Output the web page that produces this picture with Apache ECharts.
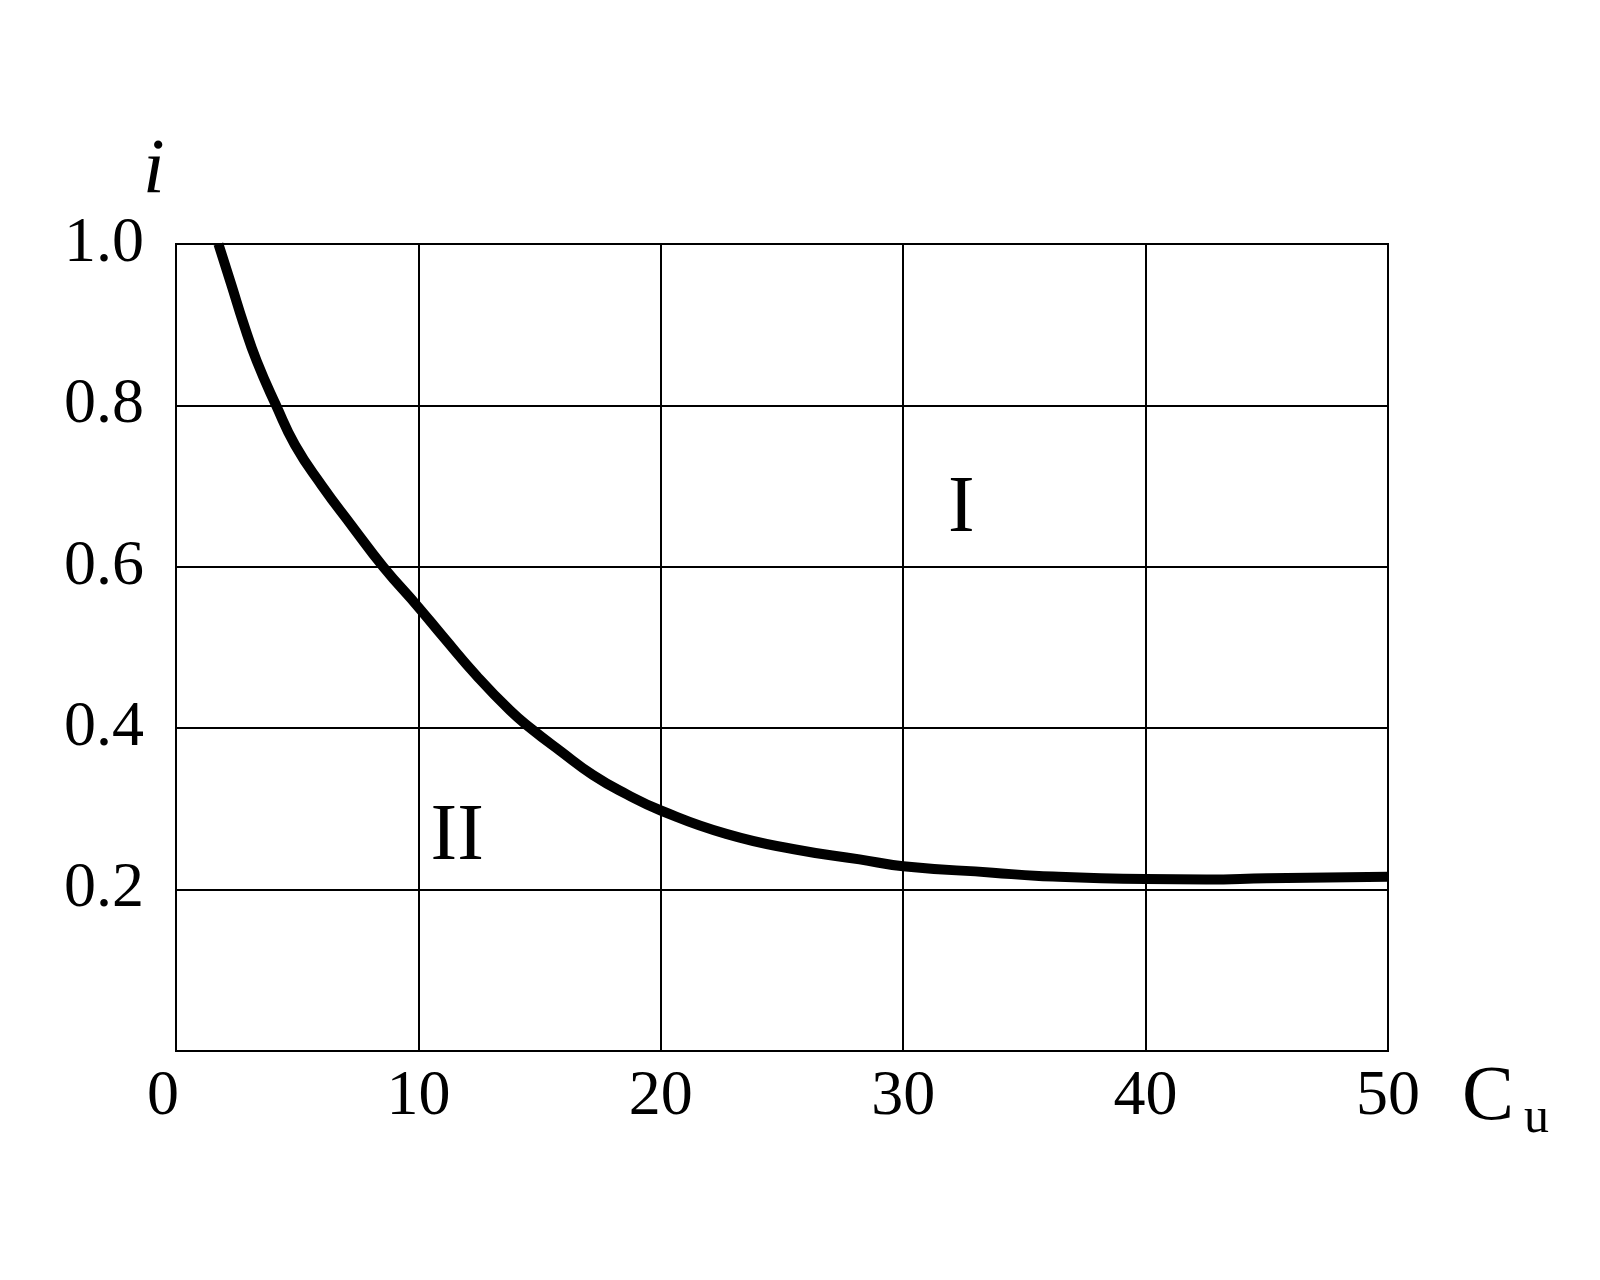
<!DOCTYPE html>
<html><head><meta charset="utf-8">
<script src="https://cdn.jsdelivr.net/npm/echarts@6/dist/echarts.min.js"></script>
<style>html,body{margin:0;padding:0;background:#fff}#c{width:1600px;height:1280px}</style>
</head><body><div id="c"></div>
<script>
const cuValues = [1.75, 2.3, 2.78, 3.33, 4.13, 4.91, 6.01, 7.25, 8.55, 10.0, 11.03, 12.4, 13.78, 14.67, 15.84, 17.2, 18.6, 20.0, 22.7, 25.5, 28.2, 30.0, 33.7, 35.6, 40, 42.5, 45, 50];
const iValues  = [1.0, 0.948, 0.902, 0.855, 0.8, 0.751, 0.701, 0.651, 0.6, 0.55, 0.513, 0.465, 0.422, 0.399, 0.372, 0.342, 0.318, 0.298, 0.269, 0.25, 0.2375, 0.229, 0.221, 0.217, 0.213, 0.2125, 0.214, 0.216];
const xTicks = [0, 10, 20, 30, 40, 50];
const yTicks = [0.2, 0.4, 0.6, 0.8, 1.0];
const regionLabels = [{name: 'I', cu: 32.4, i: 0.67}, {name: 'II', cu: 11.6, i: 0.264}];
const FONT = '"Liberation Serif", "DejaVu Serif", serif';

const chart = echarts.init(document.getElementById('c'));
chart.setOption({
  backgroundColor: '#fff',
  animation: false,
  grid: {left: 176, top: 244, width: 1212, height: 807, show: true, borderColor: '#000', borderWidth: 2, containLabel: false},
  xAxis: {
    type: 'value', min: 0, max: 50, interval: 10,
    axisLine: {show: true, lineStyle: {color: '#000', width: 2}},
    axisTick: {show: false},
    splitLine: {show: true, lineStyle: {color: '#000', width: 2}},
    axisLabel: {color: '#000', fontFamily: FONT, fontSize: 64, margin: 14,
      formatter: v => v === 0 ? '{z|0}' : (xTicks.includes(v) ? String(v) : ''),
      rich: {z: {fontFamily: FONT, fontSize: 64, color: '#000', padding: [0, 26, 0, 0]}}}
  },
  yAxis: {
    type: 'value', min: 0, max: 1, interval: 0.2,
    axisLine: {show: true, lineStyle: {color: '#000', width: 2}},
    axisTick: {show: false},
    splitLine: {show: true, lineStyle: {color: '#000', width: 2}},
    axisLabel: {color: '#000', fontFamily: FONT, fontSize: 64, margin: 32,
      formatter: v => yTicks.some(t => Math.abs(t - v) < 1e-9) ? v.toFixed(1) : ''}
  },
  series: [
    {
      type: 'line', data: cuValues.map((c, k) => [c, iValues[k]]),
      smooth: 0.5, showSymbol: false, symbol: 'none',
      lineStyle: {color: '#000', width: 10}
    },
    {
      type: 'scatter', symbolSize: 0, itemStyle: {color: '#000'},
      data: regionLabels.map(r => ({value: [r.cu, r.i], name: r.name})),
      label: {show: true, position: 'inside', formatter: p => p.name,
        color: '#000', opacity: 1, fontFamily: FONT, fontSize: 80, textBorderWidth: 0}
    }
  ],
  graphic: [
    {type: 'text', left: 143, top: 132, style: {text: 'i', font: 'italic 78px "Liberation Serif", serif', fill: '#000'}},
    {type: 'text', left: 1462, top: 1060, style: {text: 'C', font: '78px "Liberation Serif", serif', fill: '#000'}},
    {type: 'text', left: 1524, top: 1094, style: {text: 'u', font: '50px "Liberation Serif", serif', fill: '#000'}}
  ]
});
</script></body></html>
